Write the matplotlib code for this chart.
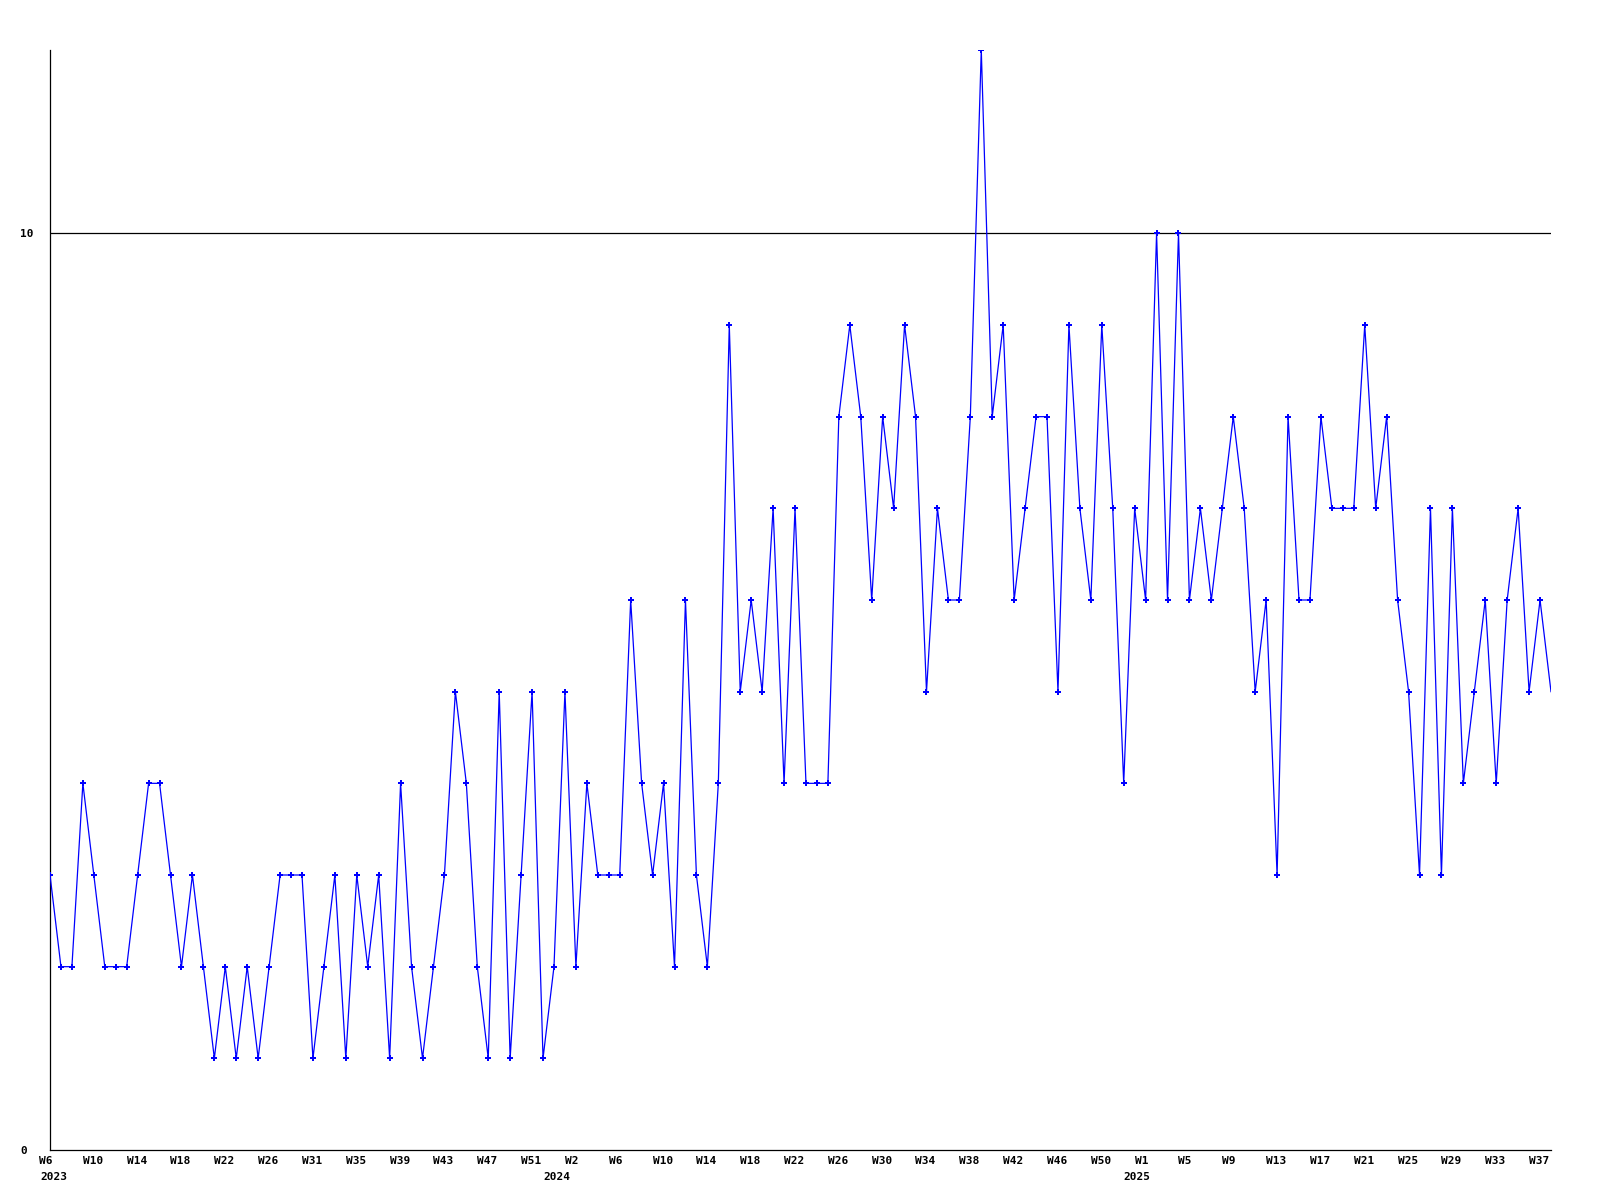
import matplotlib
matplotlib.use("Agg")
import matplotlib.pyplot as plt
import matplotlib.transforms as mtransforms

# Weekly counts, 2023 W6 .. 2025 W37
values = [
    3, 2, 2, 4, 3, 2, 2, 2, 3, 4, 4, 3, 2, 3, 2, 1, 2, 1, 2, 1,
    2, 3, 3, 3, 1, 2, 3, 1, 3, 2, 3, 1, 4, 2, 1, 2, 3, 5, 4, 2,
    1, 5, 1, 3, 5, 1, 2, 5, 2, 4, 3, 3, 3, 6, 4, 3, 4, 2, 6, 3,
    2, 4, 9, 5, 6, 5, 7, 4, 7, 4, 4, 4, 8, 9, 8, 6, 8, 7, 9, 8,
    5, 7, 6, 6, 8, 12, 8, 9, 6, 7, 8, 8, 5, 9, 7, 6, 9, 7, 4, 7,
    6, 10, 6, 10, 6, 7, 6, 7, 8, 7, 5, 6, 3, 8, 6, 6, 8, 7, 7, 7,
    9, 7, 8, 6, 5, 3, 7, 3, 7, 4, 5, 6, 4, 6, 7, 5, 6, 5,
]

week_labels = [
    "W6", "W10", "W14", "W18", "W22", "W26", "W31", "W35", "W39", "W43",
    "W47", "W51", "W2", "W6", "W10", "W14", "W18", "W22", "W26", "W30",
    "W34", "W38", "W42", "W46", "W50", "W1", "W5", "W9", "W13", "W17",
    "W21", "W25", "W29", "W33", "W37",
]
label_step = 4

years = ["2023", "2024", "2025"]
year_start = [0, 47, 100]  # index of the first point of each year

y_ticks = [0, 10]

mono = {"family": "DejaVu Sans Mono", "weight": "bold", "size": 8}

fig = plt.figure(figsize=(16, 12), dpi=100)
ax = fig.add_axes([50 / 1600, 50 / 1200, 1501 / 1600, 1100 / 1200])

x = list(range(len(values)))
ax.plot(x, values, color="#0000ff", linewidth=0.9, marker="P", markersize=4,
        markeredgewidth=0, markevery=slice(0, len(values) - 1), zorder=3)

# single reference line at 10
ax.axhline(10, color="black", linewidth=0.9, zorder=2)

ax.set_xlim(0, len(values) - 1)
ax.set_ylim(0, 12)

for side in ["top", "right"]:
    ax.spines[side].set_visible(False)
for side in ["left", "bottom"]:
    ax.spines[side].set_linewidth(0.9)
    ax.spines[side].set_color("black")

# y labels sit left-aligned near the figure edge
ax.set_yticks(y_ticks)
ax.set_yticklabels([str(v) for v in y_ticks], fontdict=mono)
ax.tick_params(axis="y", length=0, pad=21.6)
for lbl in ax.get_yticklabels():
    lbl.set_horizontalalignment("left")

# week labels every 4 points, left edge a little before the point
ax.set_xticks(x[::label_step][:len(week_labels)])
ax.set_xticklabels(week_labels, fontdict=mono)
ax.tick_params(axis="x", length=0, pad=4.5)
shift = mtransforms.ScaledTranslation(-11 / 100, 0, fig.dpi_scale_trans)
for lbl in ax.get_xticklabels():
    lbl.set_horizontalalignment("left")
    lbl.set_transform(lbl.get_transform() + shift)

# year labels under the week labels
for yr, idx in zip(years, year_start):
    dx = -10 if idx == 0 else -22
    ax.annotate(yr, xy=(idx, 0), xycoords=("data", "axes fraction"),
                xytext=(dx * 0.72, -22 * 0.72), textcoords="offset points",
                ha="left", va="top", fontsize=8, family="DejaVu Sans Mono",
                weight="bold")

fig.savefig("out.png", dpi=100)
